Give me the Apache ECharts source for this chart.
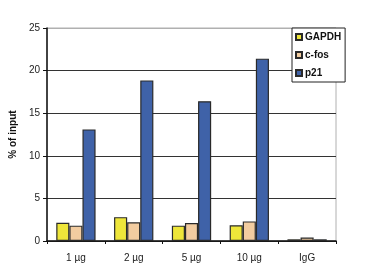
<!DOCTYPE html>
<html><head><meta charset="utf-8">
<script src="https://cdn.jsdelivr.net/npm/echarts@6/dist/echarts.min.js"></script>
<style>html,body{margin:0;padding:0;background:#fff}#c{width:369px;height:270px}</style>
</head><body><div id="c"></div>
<script>
var categories = ['1 µg', '2 µg', '5 µg', '10 µg', 'IgG'];
var gapdh = [2.15, 2.8, 1.8, 1.85, 0.2];
var cfos = [1.8, 2.2, 2.1, 2.3, 0.4];
var p21 = [13.1, 18.85, 16.4, 21.4, 0.2];
var yTicks = [0, 5, 10, 15, 20, 25];

var chart = echarts.init(document.getElementById('c'), null, {renderer: 'canvas'});
var font = 'Arial, "Liberation Sans", sans-serif';
function s(name, data, color) {
  return {
    name: name, type: 'bar', data: data, barGap: '0%', barCategoryGap: '32%',
    itemStyle: {color: color, borderColor: '#2a2a2a', borderWidth: 1.2},
    emphasis: {disabled: true}
  };
}
chart.setOption({
  animation: false,
  grid: {left: 43, right: 33, top: 28, bottom: 29, show: true, borderColor: '#b0b0b0', borderWidth: 1},
  legend: {
    orient: 'vertical', left: 292, top: 28,
    itemWidth: 6, itemHeight: 6, itemGap: 8,
    padding: [4, 4, 4, 3],
    borderColor: '#222', borderWidth: 1, backgroundColor: '#fff',
    icon: 'rect',
    textStyle: {fontFamily: font, fontSize: 10, fontWeight: 'bold', color: '#111', padding: [0, 0, 0, -2]},
    data: ['GAPDH', 'c-fos', 'p21']
  },
  xAxis: {
    type: 'category', data: categories,
    axisLine: {lineStyle: {color: '#111', width: 1.5}},
    axisTick: {show: true, length: 3, lineStyle: {color: '#111'}},
    axisLabel: {fontFamily: font, fontSize: 10, color: '#222', margin: 12}
  },
  yAxis: {
    type: 'value', min: yTicks[0], max: yTicks[yTicks.length - 1], interval: 5,
    name: '% of input', nameLocation: 'middle', nameGap: 25, nameRotate: 90,
    nameTextStyle: {fontFamily: font, fontSize: 10, fontWeight: 'bold', color: '#111'},
    axisLine: {show: true, lineStyle: {color: '#111', width: 1.5}},
    axisTick: {show: true, length: 4, lineStyle: {color: '#111'}},
    axisLabel: {fontFamily: font, fontSize: 10, color: '#222', margin: 7},
    splitLine: {lineStyle: {color: ['#333', '#333', '#333', '#333', '#333', '#b0b0b0'], width: 1.2}}
  },
  series: [s('GAPDH', gapdh, '#EEE63A'), s('c-fos', cfos, '#F2CCA0'), s('p21', p21, '#3F62A8')]
});
</script></body></html>
